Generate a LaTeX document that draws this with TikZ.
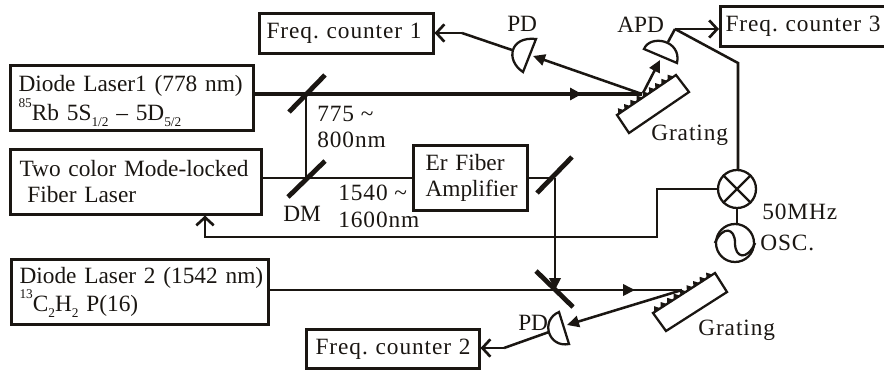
\documentclass[tikz,border=0pt]{standalone}
\usepackage{fontspec}
\setmainfont{Liberation Serif}
\usetikzlibrary{arrows.meta,calc}
\newcommand{\subs}[1]{\smash{\raisebox{-0.25em}{\fontsize{10}{10}\selectfont #1}}}
\newcommand{\sups}[1]{\smash{\raisebox{0.55em}{\fontsize{10}{10}\selectfont #1}}}
\newcommand{\spaced}{\addfontfeature{LetterSpace=4}}
\definecolor{ink}{HTML}{1A1612}
\tikzset{
  x=0.75pt,y=-0.75pt,
  every node/.style={text=ink,font=\fontsize{17.5}{19.5}\selectfont\frenchspacing},
  boxn/.style n args={3}{draw=ink,line width=1.9pt,anchor=north west,inner xsep=#3*0.75pt,inner ysep=0pt,
     minimum width=#1*0.75pt,minimum height=#2*0.75pt,text width=#1*0.75pt-#3*1.5pt-1.9pt,align=left},
  wire/.style={draw=ink,line width=1.9pt,line join=miter},
  beam/.style={draw=ink,line width=2.7pt},
  mirror/.style={draw=ink,line width=3.6pt},
  part/.style={draw=ink,line width=1.7pt,fill=white},
  openarr/.style={wire,-{Straight Barb[length=6pt,width=13pt,line width=2pt]}},
  fillarr/.style={wire,-{Triangle[length=9pt,width=8.5pt]}},
  lab/.style={inner sep=0pt,anchor=base west},
  circ/.style={circle,draw=ink,line width=1.7pt,minimum size=28.5pt,inner sep=0pt},
}
\newcommand{\grating}[5]{% name prefix, corners a b c d
  \draw[part] #2 coordinate (#1a) -- #3 coordinate (#1b) -- #4 -- #5 -- cycle;
  \foreach \t in {0.02,0.125,...,0.95}{
    \fill[ink] ($(#1a)!\t!(#1b)$) -- ($(#1a)!\t+0.04!(#1b)+(-2.6,-4.4)$) -- ($(#1a)!\t+0.1!(#1b)$) -- cycle;
  }
}
\begin{document}
\begin{tikzpicture}
\useasboundingbox (0,0) rectangle (884,369);
% boxes
\node[boxn={243}{65}{7}] (dl1) at (9,64) {\mbox{Diode Laser1 (778 nm)}\\[2.5pt]\mbox{\sups{85}Rb 5S\subs{1/2} -- 5D\subs{5/2}}};
\node[boxn={251}{65}{8}] (mll) at (9,148) {\mbox{Two color Mode-locked}\\\mbox{\ Fiber Laser}};
\node[boxn={114}{65}{11}] (er) at (412,144) {\mbox{Er Fiber}\\\mbox{Amplifier}};
\node[boxn={257}{65}{7}] (dl2) at (10,258) {\mbox{Diode Laser 2 (1542 nm)}\\[2pt]\mbox{\sups{13}C\subs{2}H\subs{2} P(16)}};
\node[boxn={174}{40}{6}] (fc1) at (258,12) {\mbox{\spaced Freq. counter 1}};
\node[boxn={173}{39}{8}] (fc2) at (305,328) {\mbox{\spaced Freq. counter 2}};
\node[boxn={170}{40}{4}] (fc3) at (719,5) {\mbox{\spaced Freq. counter 3}};
% coordinates
\coordinate (m1) at (306,94);
\coordinate (m2) at (306,178);
\coordinate (m3) at (555,178);
\coordinate (m4) at (555,290);
\coordinate (g1) at (642,94);
\coordinate (g2) at (682,290);
% gratings
\grating{ga}{(617,115)}{(676,75)}{(689,92)}{(629,133)}
\grating{gb}{(653,313)}{(715,273)}{(727,292)}{(666,331)}
% beams
\draw[beam] (dl1.east |- m1) -- (g1);
\draw[beam,-{Triangle[length=9pt,width=9pt]}] (dl1.east |- m1) -- (582,94);
\draw[wire] (m1) -- (m2);
\draw[wire] (mll.east |- m2) -- (er.west |- m2);
\draw[wire] (er.east |- m3) -- (m3);
\draw[fillarr] (m3) -- (m4);
\draw[wire] (dl2.east |- m4) -- (g2);
\draw[fillarr] (dl2.east |- m4) -- (635,290);
% mirrors
\draw[mirror] (289,112) -- (325,75);
\draw[mirror] (288,197) -- (325,161);
\draw[mirror] (536,271) -- (573,307);
\draw[mirror] (537,193) -- (572,157);
% detector paths
\draw[fillarr] (g1) -- (533,56);
\draw[fillarr] (643,93) -- (660,60);
\draw[fillarr] (g2) -- (567,325);
% detectors
\draw[part] (536,39) coordinate (pd1a) -- (523,72) coordinate (pd1b) .. controls (505,60) and (510,36) .. cycle;
\draw[part] (644,49) coordinate (apda) .. controls (650,34) and (682,40) .. (677,63) coordinate (apdb) -- cycle;
\draw[part] (559,312) coordinate (pd2a) -- (569,344) coordinate (pd2b) .. controls (548,348) and (540,320) .. cycle;
% counters wiring
\coordinate (w1) at (462,33);
\coordinate (w2) at (675,29);
\coordinate (w3) at (738,63);
\coordinate (w4) at (504,348);
\coordinate (w5) at (657,189);
\coordinate (w6) at (657,237);
\coordinate (w7) at (205,237);
\draw[wire] (512,50) -- (w1);
\draw[openarr] (w1) -- (fc1.east |- w1);
\draw[wire] (549,332) -- (w4);
\draw[openarr] (w4) -- (fc2.east |- w4);
\draw[wire] (668,42) -- (w2);
\draw[openarr] (w2) -- (fc3.west |- w2);
% mixer and oscillator
\node[circ] (mix) at (737,189) {};
\node[circ] (osc) at (735,243) {};
\draw[wire] (w2) -- (w3) -- (w3 |- mix.north);
\draw[wire] (mix.south) -- (mix.south |- osc.north);
\draw[openarr] (mix.west) -- (w5) -- (w6) -- (w7) -- (w7 |- mll.south);
\draw[part] (mix.north west) -- (mix.south east) (mix.north east) -- (mix.south west);
\draw[part,fill=none] (osc.west) .. controls (723,225) and (735,228) .. (735,243) .. controls (735,258) and (747,261) .. (osc.east);
% labels
\node[lab] (t1) at (317,121) {\spaced 775 \char"7E};
\node[lab] (t2) at (317,147) {\spaced 800nm};
\node[lab] (t4) at (338,200) {\spaced 1540 \char"7E};
\node[lab] (t5) at (338,227) {\spaced 1600nm};
\node[lab] (t6) at (283,221) {DM};
\node[lab] (t7) at (507,31) {PD};
\node[lab] (t8) at (617,32) {APD};
\node[lab] (t9) at (651,140) {\spaced Grating};
\node[lab] (t11) at (698,335) {\spaced Grating};
\node[lab] (t12) at (518,330) {PD};
\node[lab] (t13) at (762,219) {\spaced 50MHz};
\node[lab] (t14) at (760,250) {\spaced OSC.};
\end{tikzpicture}
\end{document}
